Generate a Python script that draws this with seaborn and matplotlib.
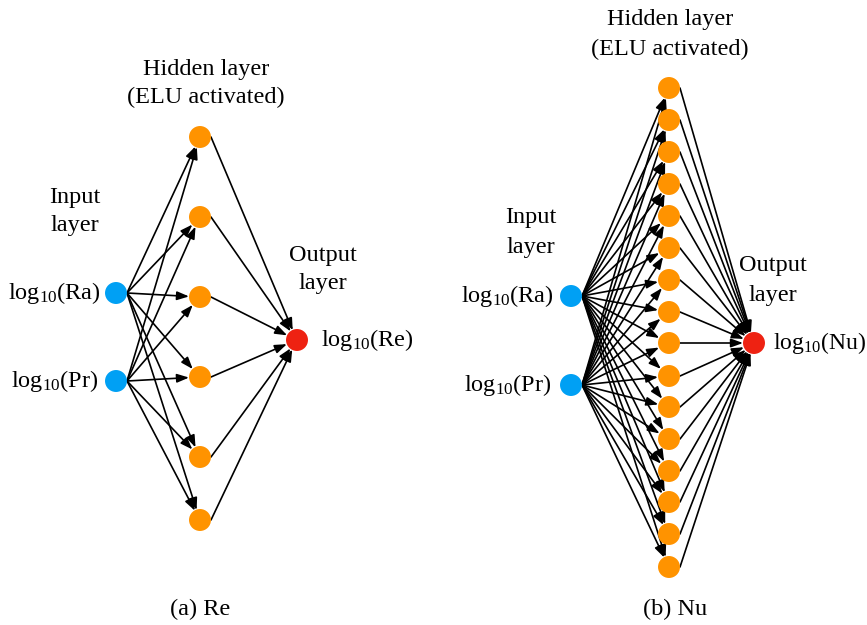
import numpy as np
import pandas as pd
import matplotlib
matplotlib.use("Agg")
import matplotlib.pyplot as plt
import seaborn as sns

# ---- data (node layout of the two networks, in pixel units) ----
re_layer_x = [116, 200, 297]
re_input_y = [293, 381]
re_hidden_y = [137, 217, 297, 377, 457, 520]
re_output_y = [340]

nu_layer_x = [571, 669, 754]
nu_input_y = [296, 385]
nu_hidden_y = [88, 120, 152, 184, 216, 248, 280, 312, 343, 376, 407, 439, 471, 502, 534, 567]
nu_output_y = [343]

input_labels = ["log$_{\\mathrm{10}}$(Ra)", "log$_{\\mathrm{10}}$(Pr)"]
re_output_label = "log$_{\\mathrm{10}}$(Re)"
nu_output_label = "log$_{\\mathrm{10}}$(Nu)"
palette = {"input": "#00A0F4", "hidden": "#FF9300", "output": "#EE2212"}

sns.set_theme(style="white")
plt.rcParams['font.family'] = ['Liberation Serif', 'DejaVu Serif']
plt.rcParams['mathtext.fontset'] = 'custom'
plt.rcParams['mathtext.rm'] = 'Liberation Serif'
plt.rcParams['mathtext.it'] = 'Liberation Serif:italic'

fig = plt.figure(figsize=(8.67, 6.25), dpi=100)
ax = fig.add_axes([0, 0, 1, 1])
ax.set_xlim(0, 867)
ax.set_ylim(625, 0)
ax.axis("off")

rows = []
def add_net(lx, iy, hy, oy):
    for y in iy:
        rows.append((lx[0], y, "input"))
    for y in hy:
        rows.append((lx[1], y, "hidden"))
    for y in oy:
        rows.append((lx[2], y, "output"))
add_net(re_layer_x, re_input_y, re_hidden_y, re_output_y)
add_net(nu_layer_x, nu_input_y, nu_hidden_y, nu_output_y)
nodes = pd.DataFrame(rows, columns=["x", "y", "role"])

sns.scatterplot(data=nodes, x="x", y="y", hue="role", palette=palette,
                s=250, edgecolor="none", legend=False, ax=ax, zorder=3)
ax.set_xlabel("")
ax.set_ylabel("")

R = 11.0
def arrow(p0, p1):
    x0, y0 = p0
    x1, y1 = p1
    sx, sy = x0 + R, y0
    d = np.array([x1 - sx, y1 - sy])
    u = d / np.hypot(*d)
    ex, ey = x1 - R * u[0], y1 - R * 0.95 * u[1]
    ax.annotate("", xy=(ex, ey), xytext=(sx, sy),
                arrowprops=dict(arrowstyle="-|>,head_length=0.55,head_width=0.2",
                                color="black", lw=1.2, shrinkA=0, shrinkB=0,
                                mutation_scale=13), zorder=2)

def draw_edges(lx, iy, hy, oy):
    for yi in iy:
        for yh in hy:
            arrow((lx[0], yi), (lx[1], yh))
    for yh in hy:
        for yo in oy:
            arrow((lx[1], yh), (lx[2], yo))

draw_edges(re_layer_x, re_input_y, re_hidden_y, re_output_y)
draw_edges(nu_layer_x, nu_input_y, nu_hidden_y, nu_output_y)

fs = 17.5
def t(x, y, s, ha="center", size=fs):
    ax.text(x, y, s, ha=ha, va="center", fontsize=size, color="black")

# panel (a)
t(206, 69, "Hidden layer")
t(206, 97, "(ELU activated)")
t(75, 197, "Input")
t(75, 225, "layer")
t(323, 255, "Output")
t(323, 283, "layer")
t(101, 293, input_labels[0], ha="right")
t(98, 381, input_labels[1], ha="right")
t(321, 340, re_output_label, ha="left")
t(200, 609, "(a) Re")

# panel (b)
t(670, 20, "Hidden layer")
t(670, 49, "(ELU activated)")
t(531, 218, "Input")
t(531, 247, "layer")
t(773, 266, "Output")
t(773, 295, "layer")
t(554, 296, input_labels[0], ha="right")
t(551, 385, input_labels[1], ha="right")
t(773, 343, nu_output_label, ha="left", size=17)
t(675, 609, "(b) Nu")

fig.savefig("out.png", dpi=100)
